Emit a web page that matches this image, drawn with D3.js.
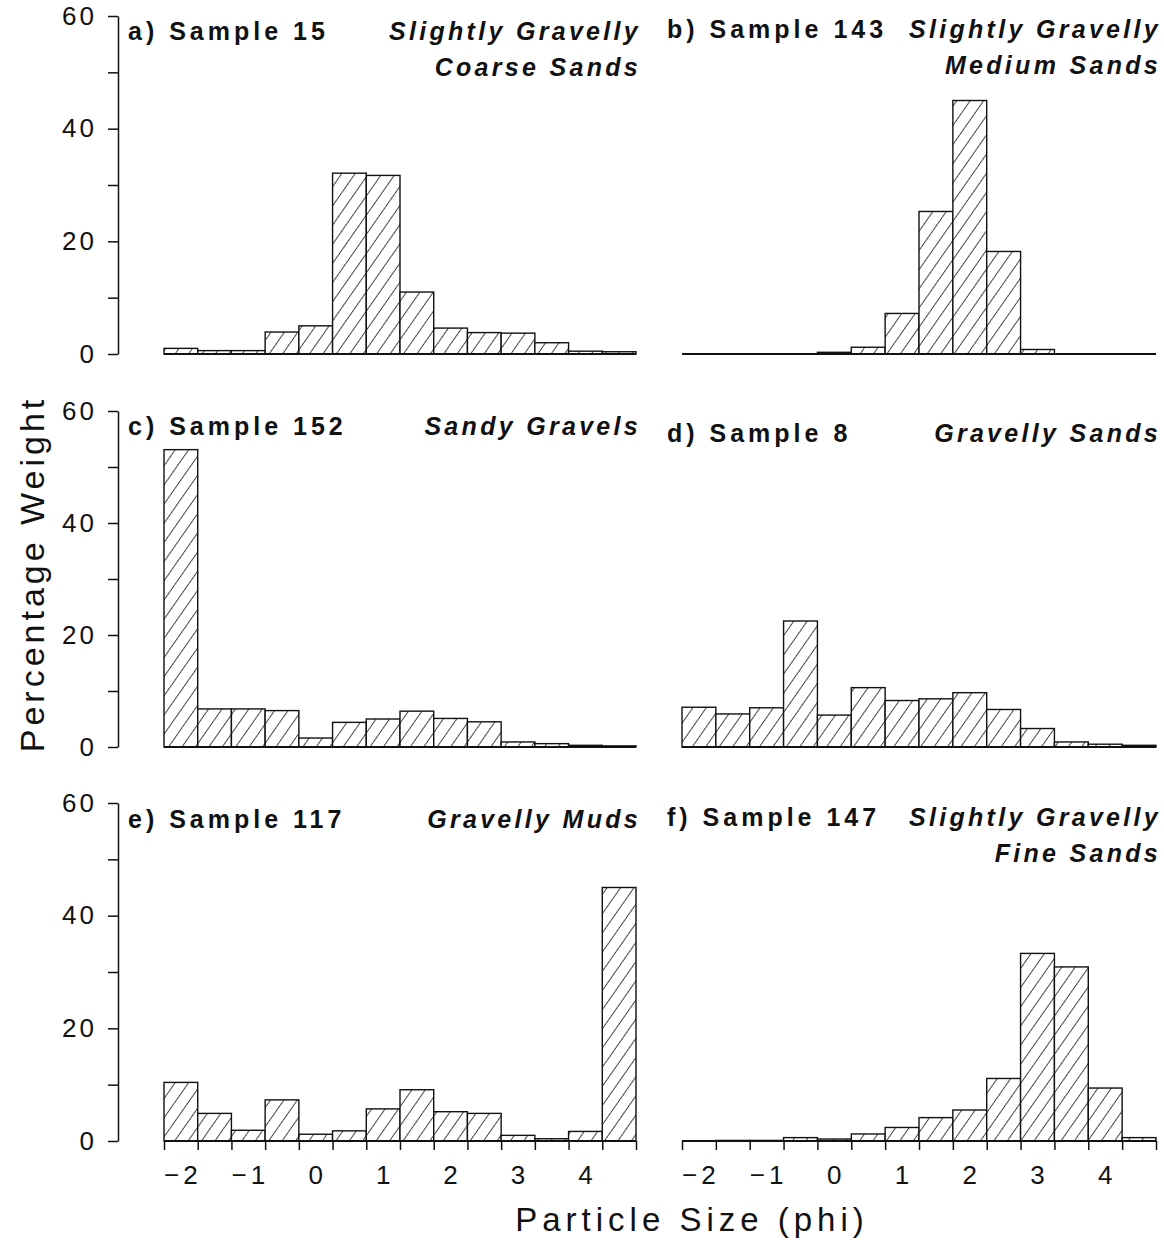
<!DOCTYPE html>
<html>
<head>
<meta charset="utf-8">
<script src="https://cdn.jsdelivr.net/npm/d3@7"></script>
<style>
body{margin:0;background:#fff;}
text{font-family:"Liberation Sans",Arial,Helvetica,sans-serif;fill:#111;}
</style>
</head>
<body>
<script>
// half-phi classes (bin centres) and axis labels
var phiBins = [-2,-1.5,-1,-0.5,0,0.5,1,1.5,2,2.5,3,3.5,4,4.5];
var phiLabels = [-2,-1,0,1,2,3,4];
var yTicks = [0,10,20,30,40,50,60];
var yLabels = [0,20,40,60];

// percentage weight per bin
var sample15  = [1.0,0.6,0.6,3.9,5.0,32.1,31.7,11.0,4.6,3.8,3.7,2.0,0.5,0.4];
var sample143 = [0,0,0,0,0.3,1.2,7.2,25.3,45.0,18.2,0.8,0,0,0];
var sample152 = [53.1,6.8,6.8,6.5,1.6,4.4,5.0,6.4,5.1,4.5,0.9,0.6,0.3,0.2];
var sample8   = [7.1,5.9,7.0,22.5,5.7,10.6,8.3,8.6,9.7,6.7,3.3,0.9,0.5,0.3];
var sample117 = [10.4,4.9,1.9,7.3,1.2,1.8,5.7,9.1,5.2,4.9,1.0,0.4,1.7,45.0];
var sample147 = [0,0.1,0.1,0.6,0.35,1.25,2.4,4.15,5.5,11.1,33.3,30.9,9.4,0.6];

var panelNames = ["a) Sample 15","b) Sample 143","c) Sample 152","d) Sample 8","e) Sample 117","f) Sample 147"];
var panelClasses = [["Slightly Gravelly","Coarse Sands"],["Slightly Gravelly","Medium Sands"],["Sandy Gravels"],["Gravelly Sands"],["Gravelly Muds"],["Slightly Gravelly","Fine Sands"]];
var panelSeries = [sample15,sample143,sample152,sample8,sample117,sample147];

// layout
var cols = [[164,636],[682,1156]];
var rows = [[354,16],[747,411],[1141,803]];
var titleDy = [24,22,24,31,25,23];

var svg = d3.select("body").append("svg")
	.attr("width",1164)
	.attr("height",1240);

var pat = svg.append("defs").append("pattern")
	.attr("id","hatch")
	.attr("patternUnits","userSpaceOnUse")
	.attr("width",11)
	.attr("height",11)
	.attr("patternTransform","rotate(35)");
pat.append("rect").attr("width",11).attr("height",11).attr("fill","#fff");
pat.append("line")
	.attr("x1",5.5).attr("y1",-1)
	.attr("x2",5.5).attr("y2",12)
	.attr("stroke","#333")
	.attr("stroke-width",0.9);

for(var i=0; i<panelSeries.length; i++){
	var col = i%2, row = Math.floor(i/2);
	var x = d3.scaleLinear().domain([-2.25,4.75]).range(cols[col]);
	var y = d3.scaleLinear().domain([0,60]).range(rows[row]);
	var g = svg.append("g");

	//bars
	g.selectAll("rect.bar")
		.data(phiBins.map(function(p,k){ return {phi:p, v:panelSeries[i][k]}; }).filter(function(d){ return d.v>0; }))
		.enter().append("rect")
			.classed("bar",true)
			.attr("x",function(d){ return x(d.phi-0.25); })
			.attr("width",function(d){ return x(d.phi+0.25)-x(d.phi-0.25); })
			.attr("y",function(d){ return y(d.v); })
			.attr("height",function(d){ return y(0)-y(d.v); })
			.attr("fill","url(#hatch)")
			.attr("stroke","#111")
			.attr("stroke-width",1.4);

	//baseline
	g.append("line")
		.attr("x1",x(-2.25)).attr("x2",x(4.75))
		.attr("y1",y(0)).attr("y2",y(0))
		.attr("stroke","#111")
		.attr("stroke-width",1.8);

	//y axis on left column
	if(col==0){
		var ya = g.append("g")
			.attr("transform","translate(118,0)")
			.call(d3.axisLeft(y).tickValues(yTicks).tickSize(10).tickSizeOuter(0).tickPadding(11)
				.tickFormat(function(d){ return yLabels.indexOf(d)>=0 ? d : ""; }));
		ya.selectAll("path,line").attr("stroke","#111").attr("stroke-width",1.5);
		ya.selectAll("text")
			.style("font-family","'Liberation Sans',Arial,sans-serif")
			.style("font-size","26px")
			.style("letter-spacing","3px")
			.attr("fill","#222");
	}

	//x axis on bottom row
	if(row==2){
		var xa = g.append("g")
			.attr("transform","translate(0,"+y(0)+")")
			.call(d3.axisBottom(x).tickValues(d3.range(15).map(function(k){ return -2.25+k*0.5; })).tickSize(9).tickSizeOuter(0).tickFormat(""));
		xa.select(".domain").remove();
		xa.selectAll("line").attr("stroke","#111").attr("stroke-width",1.5);
		g.selectAll("text.xl")
			.data(phiLabels)
			.enter().append("text")
				.classed("xl",true)
				.attr("x",function(d){ return x(d)+2; })
				.attr("y",y(0)+43)
				.attr("text-anchor","middle")
				.style("font-size","26px")
				.style("letter-spacing","4px")
				.text(function(d){ return d<0 ? "\u2212"+Math.abs(d) : d; });
	}

	//titles
	var ty = rows[row][1]+titleDy[i];
	g.append("text")
		.attr("x",col==0 ? 128 : 667)
		.attr("y",ty)
		.style("font-size","25px")
		.style("font-weight","bold")
		.style("letter-spacing","4px")
		.text(panelNames[i]);
	for(var u=0; u<panelClasses[i].length; u++){
		g.append("text")
			.attr("x",cols[col][1]+5)
			.attr("y",ty+u*36)
			.attr("text-anchor","end")
			.style("font-size","25px")
			.style("font-weight","bold")
			.style("font-style","italic")
			.style("letter-spacing","3.3px")
			.text(panelClasses[i][u]);
	}
}

//axis titles
svg.append("text")
	.attr("transform","translate(44,574) rotate(-90)")
	.attr("text-anchor","middle")
	.style("font-size","34px")
	.style("letter-spacing","4px")
	.text("Percentage Weight");
svg.append("text")
	.attr("x",692)
	.attr("y",1231)
	.attr("text-anchor","middle")
	.style("font-size","33px")
	.style("letter-spacing","5px")
	.text("Particle Size (phi)");
</script>
</body>
</html>
